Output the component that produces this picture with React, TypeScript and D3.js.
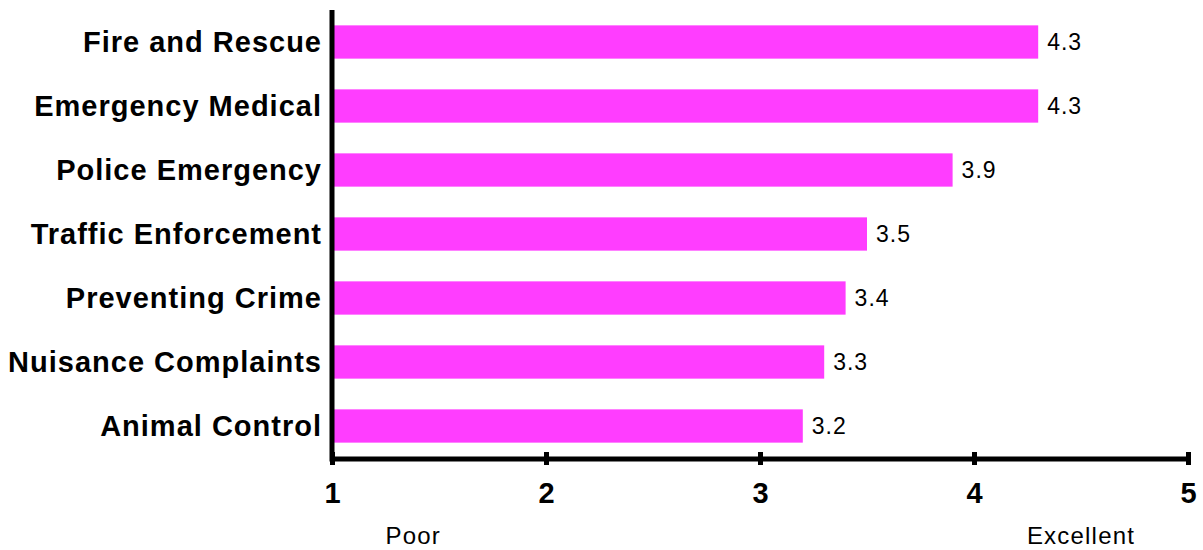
import React, { useEffect, useRef } from "react";
import * as d3 from "d3";

const categories = [
  "Fire and Rescue",
  "Emergency Medical",
  "Police Emergency",
  "Traffic Enforcement",
  "Preventing Crime",
  "Nuisance Complaints",
  "Animal Control",
];
const ratings = [4.3, 4.3, 3.9, 3.5, 3.4, 3.3, 3.2];
const tickValues = [1, 2, 3, 4, 5];
const scaleLabels = [
  { value: 1.38, text: "Poor" },
  { value: 4.5, text: "Excellent" },
];

const W = 1203, H = 550;
const FONT = "Arial, 'Liberation Sans', sans-serif";

export default function App() {
  const ref = useRef<SVGSVGElement>(null);

  useEffect(() => {
    const svg = d3.select(ref.current);
    svg.selectAll("*").remove();

    const x = d3.scaleLinear().domain([1, 5]).range([332, 1188]);
    const y = d3.scaleBand()
      .domain(categories)
      .range([10, 458])
      .paddingInner(0.48)
      .paddingOuter(0.24);

    const axisY = 459;

    // bars
    svg.append("g")
      .selectAll("rect")
      .data(ratings)
      .join("rect")
      .attr("x", x(1) + 2)
      .attr("y", (d, i) => y(categories[i])!)
      .attr("width", d => x(d) - x(1) - 2)
      .attr("height", y.bandwidth())
      .attr("fill", "#ff3dff");

    // value labels
    svg.append("g")
      .selectAll("text")
      .data(ratings)
      .join("text")
      .attr("x", d => x(d) + 9)
      .attr("y", (d, i) => y(categories[i])! + y.bandwidth() / 2 + 8)
      .attr("font-family", FONT)
      .attr("font-size", 23)
      .attr("letter-spacing", 1)
      .attr("fill", "#000")
      .text(d => d.toFixed(1));

    // category labels
    svg.append("g")
      .selectAll("text")
      .data(categories)
      .join("text")
      .attr("x", 322)
      .attr("y", d => y(d)! + y.bandwidth() / 2 + 10)
      .attr("text-anchor", "end")
      .attr("font-family", FONT)
      .attr("font-weight", "bold")
      .attr("font-size", 29)
      .attr("letter-spacing", 1)
      .attr("fill", "#000")
      .text(d => d);

    // vertical axis line
    svg.append("line")
      .attr("x1", x(1)).attr("x2", x(1))
      .attr("y1", 10).attr("y2", axisY + 2.5)
      .attr("stroke", "#000")
      .attr("stroke-width", 5);

    // horizontal axis
    const xAxis = d3.axisBottom(x)
      .tickValues(tickValues)
      .tickSize(6)
      .tickPadding(0)
      .tickFormat(d3.format("d"));

    const g = svg.append("g")
      .attr("transform", "translate(0," + axisY + ")")
      .call(xAxis);

    g.select(".domain")
      .attr("d", "M" + x(1) + ",0H" + (x(5) + 2))
      .attr("stroke", "#000")
      .attr("stroke-width", 5);
    g.selectAll(".tick line")
      .attr("y1", -7)
      .attr("y2", 6)
      .attr("stroke", "#000")
      .attr("stroke-width", 5);
    g.selectAll(".tick text")
      .attr("y", 44)
      .attr("dy", null)
      .attr("font-family", FONT)
      .attr("font-weight", "bold")
      .attr("font-size", 29)
      .attr("fill", "#000");

    // scale end labels
    svg.append("g")
      .selectAll("text")
      .data(scaleLabels)
      .join("text")
      .attr("x", d => x(d.value))
      .attr("y", 544)
      .attr("text-anchor", "middle")
      .attr("font-family", FONT)
      .attr("font-size", 24)
      .attr("letter-spacing", 1.2)
      .attr("fill", "#000")
      .text(d => d.text);
  }, []);

  return (
    <svg
      ref={ref}
      width={W}
      height={H}
      style={{ position: "absolute", left: 0, top: 0, background: "#fff" }}
    />
  );
}
